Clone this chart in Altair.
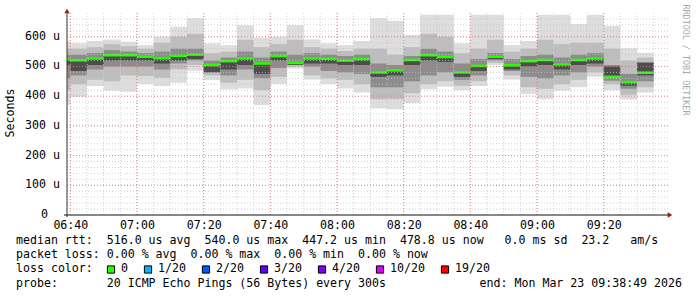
import altair as alt
import pandas as pd

# ---------------- data ----------------
bar_start = pd.date_range("2026-03-23 06:35", periods=36, freq="5min")
rtt_min = [370, 398, 434, 418, 415, 441, 434, 445, 486, 454, 423, 426, 370, 441, 493, 456, 441, 426,
           412, 359, 356, 376, 423, 432, 420, 434, 505, 456, 407, 390, 418, 430, 465, 420, 389, 412]
rtt_q10 = [420, 440, 455, 450, 470, 468, 462, 490, 505, 470, 445, 455, 420, 465, 500, 470, 460, 455,
           440, 390, 390, 410, 440, 450, 435, 450, 512, 470, 430, 425, 440, 455, 480, 440, 405, 430]
rtt_q25 = [460, 470, 490, 500, 500, 500, 490, 510, 520, 485, 470, 490, 460, 495, 505, 500, 485, 480,
           475, 430, 430, 450, 470, 480, 455, 470, 520, 485, 465, 460, 470, 480, 500, 452, 425, 450]
rtt_q40 = [505, 485, 505, 520, 520, 520, 510, 520, 525, 480, 490, 505, 475, 520, 505, 510, 510, 505,
           505, 465, 470, 505, 520, 515, 465, 485, 525, 490, 500, 505, 490, 505, 510, 462, 435, 470]
rtt_med = [524, 521, 527, 538, 538, 533, 528, 536, 540, 505, 518, 527, 510, 535, 512, 527, 526, 520,
           525, 480, 487, 522, 538, 532, 480, 502, 533, 504, 518, 522, 507, 522, 527, 465, 447, 479]
rtt_q60 = [528, 524, 530, 540, 540, 536, 532, 540, 542, 507, 520, 530, 512, 538, 515, 530, 528, 522,
           527, 483, 490, 525, 540, 535, 483, 505, 536, 507, 520, 525, 510, 525, 530, 500, 450, 512]
rtt_q75 = [540, 540, 545, 555, 550, 545, 550, 560, 560, 520, 530, 550, 530, 550, 540, 545, 540, 535,
           540, 510, 505, 535, 560, 550, 510, 525, 545, 525, 535, 540, 530, 540, 545, 505, 475, 515]
rtt_q90 = [560, 560, 565, 575, 568, 560, 580, 600, 610, 545, 550, 590, 565, 575, 590, 565, 560, 552,
           560, 560, 540, 565, 610, 600, 545, 560, 590, 550, 560, 590, 575, 580, 580, 560, 520, 530]
rtt_max = [585, 578, 586, 591, 583, 572, 600, 634, 662, 578, 572, 639, 597, 600, 639, 591, 578, 572,
           586, 662, 654, 606, 674, 674, 578, 674, 674, 572, 586, 674, 674, 643, 674, 637, 561, 546]

y_ticks = [0, 100, 200, 300, 400, 500, 600]
y_tick_labels = ["0", "100 u", "200 u", "300 u", "400 u", "500 u", "600 u"]
x_tick_labels = ["06:40", "07:00", "07:20", "07:40", "08:00", "08:20", "08:40", "09:00", "09:20"]

loss_labels = ["0", "1/20", "2/20", "3/20", "4/20", "10/20", "19/20"]
loss_colors = ["#26ff00", "#00b8ff", "#0059ff", "#5e00ff", "#7e00ff", "#dd00ff", "#ff0000"]

line1 = "median rtt:  516.0 us avg  540.0 us max  447.2 us min  478.8 us now   0.0 ms sd  23.2   am/s"
line2 = "packet loss: 0.00 % avg  0.00 % max  0.00 % min  0.00 % now"
line3 = "loss color:"
line4 = "probe:       20 ICMP Echo Pings (56 Bytes) every 300s"
end_text = "end: Mon Mar 23 09:38:49 2026"
watermark = "RRDTOOL / TOBI OETIKER"
y_title = "Seconds"

# ---------------- layout ----------------
W, H = 602, 202
LEFT, TOP = 67, 13
FONT = "DejaVu Sans Mono"
FS = 11.6
CH = 7.0


def minutes(ts):
    return (ts.hour - 6) * 60 + ts.minute


t0 = [minutes(t) for t in bar_start]
df = pd.DataFrame({
    "t0": t0, "t1": [t + 5 for t in t0],
    "mn": rtt_min, "q10": rtt_q10, "q25": rtt_q25, "q40": rtt_q40, "med": rtt_med,
    "q60": rtt_q60, "q75": rtt_q75, "q90": rtt_q90, "mx": rtt_max,
})

x_major = [int(s[:2]) * 60 + int(s[3:]) - 360 for s in x_tick_labels]
x_minor = list(range(x_major[0], x_major[-1] + 20, 5))
y_minor = list(range(20, 680, 20))

x0 = 39
xs = alt.Scale(domain=[x0, x0 + W * 0.3], nice=False, zero=False)
ys = alt.Scale(domain=[0, 680], nice=False, zero=False)

xlab_expr = " : ".join(f"datum.value == {m} ? '{l}'" for m, l in zip(x_major, x_tick_labels)) + " : ''"

xaxis = alt.Axis(values=x_major, labelExpr=xlab_expr, title=None, grid=False, ticks=False, domain=False,
                 labelFont=FONT, labelFontSize=FS, labelColor="#000000", labelBaseline="middle",
                 labelPadding=10, labelFlush=False)
yaxis = None

base = alt.Chart(df)


def band(lo, hi, color):
    return base.mark_rect(color=color, clip=True).encode(
        x=alt.X("t0:Q", scale=xs, axis=xaxis),
        x2="t1:Q",
        y=alt.Y(f"{lo}:Q", scale=ys, axis=yaxis),
        y2=f"{hi}:Q",
    )


smoke = [band("mn", "mx", "#dddddd"), band("q10", "q90", "#bdbdbd"),
         band("q25", "q75", "#8c8c8c"), band("q40", "q60", "#4d4d4d")]

median = base.mark_rule(color="#26ff00", strokeWidth=2.6, clip=True).encode(
    x=alt.X("t0:Q", scale=xs, axis=xaxis), x2="t1:Q",
    y=alt.Y("med:Q", scale=ys, axis=yaxis),
)

vminor = alt.Chart(pd.DataFrame({"m": x_minor})).mark_rule(
    color="#c4c4c4", strokeDash=[1, 2], strokeWidth=1, opacity=0.8).encode(
    x=alt.X("m:Q", scale=xs, axis=xaxis), y=alt.value(0), y2=alt.value(H))
hminor = alt.Chart(pd.DataFrame({"v": y_minor})).mark_rule(
    color="#c4c4c4", strokeDash=[1, 2], strokeWidth=1, opacity=0.8).encode(
    y=alt.Y("v:Q", scale=ys, axis=yaxis), x=alt.value(0), x2=alt.value(W))
vmajor = alt.Chart(pd.DataFrame({"m": x_major})).mark_rule(
    color="#e05050", strokeDash=[1, 2], strokeWidth=1, opacity=0.6).encode(
    x=alt.X("m:Q", scale=xs, axis=xaxis), y=alt.value(0), y2=alt.value(H))
hmajor = alt.Chart(pd.DataFrame({"v": y_ticks[1:]})).mark_rule(
    color="#e05050", strokeDash=[1, 2], strokeWidth=1, opacity=0.6).encode(
    y=alt.Y("v:Q", scale=ys, axis=yaxis), x=alt.value(0), x2=alt.value(W))

# y tick labels drawn as text through the y scale
ylab = pd.DataFrame({"v": y_ticks, "lab": y_tick_labels})
ylab_main = alt.Chart(ylab).transform_filter("datum.v > 0").mark_text(
    font=FONT, fontSize=FS, align="right", baseline="middle", color="#000000").encode(
    y=alt.Y("v:Q", scale=ys, axis=yaxis), x=alt.value(-7), text="lab:N")
ylab_zero = alt.Chart(ylab).transform_filter("datum.v == 0").mark_text(
    font=FONT, fontSize=FS, align="right", baseline="middle", color="#000000").encode(
    y=alt.Y("v:Q", scale=ys, axis=yaxis), x=alt.value(-19), text="lab:N")

one = pd.DataFrame({"a": [0]})
yline = alt.Chart(one).mark_rule(color="#333333", strokeWidth=1).encode(
    x=alt.value(0), y=alt.value(-2), y2=alt.value(H + 2))
xline = alt.Chart(one).mark_rule(color="#111111", strokeWidth=1).encode(
    y=alt.value(H), x=alt.value(-3), x2=alt.value(W - 1))
yarrow = alt.Chart(one).mark_point(shape="triangle-up", filled=True, size=28, color="#9b1c1c", opacity=1).encode(
    x=alt.value(0), y=alt.value(-2))
xarrow = alt.Chart(one).mark_point(shape="triangle-right", filled=True, size=28, color="#9b1c1c", opacity=1).encode(
    x=alt.value(W + 1), y=alt.value(H))


def text_layer(s, x, y, **kw):
    return alt.Chart(pd.DataFrame({"s": [s.replace(" ", "\u00a0")]})).mark_text(
        font=FONT, fontSize=kw.pop("fontSize", FS), color=kw.pop("color", "#000000"),
        align=kw.pop("align", "left"), baseline="middle", **kw).encode(
        text="s:N", x=alt.value(x), y=alt.value(y))


TX = 16 - LEFT
texts = [
    text_layer(line1, TX, 240.5 - TOP),
    text_layer(line2, TX, 255 - TOP),
    text_layer(line3, TX, 269 - TOP),
    text_layer(line4, TX, 283.5 - TOP),
    text_layer(end_text, 682 - LEFT, 283.5 - TOP, align="right"),
    text_layer(y_title, 11 - LEFT, 113 - TOP, angle=270, align="center"),
    text_layer(watermark, 686 - LEFT, 60 - TOP, angle=90, align="center", fontSize=8.4, color="#a8a8a8"),
]

# loss colour legend: boxes followed by labels, laid out by character width
bx, lx = [], []
cur = 107
for lab in loss_labels:
    bx.append(cur + 4 - LEFT)
    lx.append(cur + 14 - LEFT)
    cur = cur + 14 + len(lab) * CH + 16
leg = pd.DataFrame({"lab": loss_labels, "col": loss_colors, "bx": bx, "lx": lx})
leg_boxes = alt.Chart(leg).mark_square(size=52, stroke="#000000", strokeWidth=1, opacity=1).encode(
    x=alt.X("bx:Q", scale=None), y=alt.value(269.5 - TOP), fill=alt.Fill("col:N", scale=None))
leg_text = alt.Chart(leg).mark_text(font=FONT, fontSize=FS, align="left", baseline="middle", color="#000000").encode(
    x=alt.X("lx:Q", scale=None), y=alt.value(269 - TOP), text="lab:N")

chart = alt.layer(
    *smoke, median, vminor, hminor, vmajor, hmajor, yline, xline, yarrow, xarrow,
    ylab_main, ylab_zero, *texts, leg_boxes, leg_text,
).properties(
    width=W, height=H,
    autosize=alt.AutoSizeParams(type="none"),
    padding={"left": LEFT, "top": TOP, "right": 697 - LEFT - W, "bottom": 297 - TOP - H},
    background="#ffffff",
).configure_view(stroke=None)

chart.save("out.html", embed_options={"renderer": "svg", "actions": False})
